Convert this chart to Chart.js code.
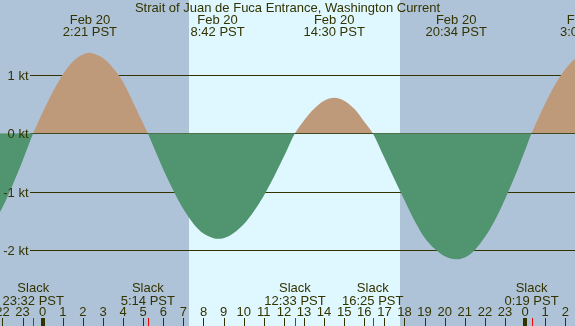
<!DOCTYPE html>
<html>
<head>
<meta charset="utf-8">
<script src="https://cdn.jsdelivr.net/npm/chart.js@4/dist/chart.umd.min.js"></script>
<style>
html,body{margin:0;padding:0;background:#afc3d8;}
canvas{display:block;}
</style>
</head>
<body>
<canvas id="c" width="575" height="326"></canvas>
<script>
// ---- data (hours relative to Feb 20 00:00 PST, current in knots) ----
const hours = [-2.5,-2.0,-1.5,-1.0,-0.47,0.0,0.5,1.0,1.5,2.0,2.35,2.5,3.0,3.5,4.0,4.5,5.0,5.23,5.5,6.0,6.5,7.0,7.5,8.0,8.5,8.70,9.0,9.5,10.0,10.5,11.0,11.5,12.0,12.55,13.0,13.5,14.0,14.5,15.0,15.5,16.0,16.42,17.0,17.5,18.0,18.5,19.0,19.5,20.0,20.57,21.0,21.5,22.0,22.5,23.0,23.5,24.0,24.32,24.5,25.0,25.5,26.0,26.5,27.0];
const knots = [-1.58,-1.27,-0.89,-0.47,0,0.36,0.71,1.01,1.23,1.35,1.38,1.37,1.29,1.12,0.88,0.53,0.17,0,-0.22,-0.62,-0.98,-1.30,-1.55,-1.72,-1.80,-1.81,-1.80,-1.71,-1.56,-1.34,-1.07,-0.75,-0.40,0,0.22,0.42,0.56,0.61,0.56,0.42,0.20,0,-0.42,-0.79,-1.15,-1.50,-1.79,-1.98,-2.11,-2.16,-2.13,-2.00,-1.78,-1.49,-1.13,-0.73,-0.29,0,0.14,0.51,0.84,1.10,1.28,1.35];

const title = "Strait of Juan de Fuca Entrance, Washington Current";
const extremeTimes = [2.35, 8.70, 14.50, 20.57, 27.08];
const extremeDates = ["Feb 20","Feb 20","Feb 20","Feb 20","Feb 21"];
const extremeLabels = ["2:21 PST","8:42 PST","14:30 PST","20:34 PST","3:05 PST"];
const slackTimes = [-0.47, 5.23, 12.55, 16.42, 24.32];
const slackLabels = ["23:32 PST","5:14 PST","12:33 PST","16:25 PST","0:19 PST"];
const sunrise = [7.28];
const sunset = [17.78];
const hourTicks = [-2,-1,0,1,2,3,4,5,6,7,8,9,10,11,12,13,14,15,16,17,18,19,20,21,22,23,24,25,26];
const hourLabels = ["22","23","0","1","2","3","4","5","6","7","8","9","10","11","12","13","14","15","16","17","18","19","20","21","22","23","0","1","2"];
const ktLevels = [1, 0, -1, -2];
const ktLabels = ["1 kt","0 kt","-1 kt","-2 kt"];

const NIGHT = '#afc3d8', DAY = '#dff7fe', FLOOD = '#be9a7a', EBB = '#509470';
const INK = '#333300';
const FONT = '13px "Liberation Sans", Arial, sans-serif';

const tidePlugin = {
  id: 'tide',
  beforeDatasetsDraw(chart) {
    const ctx = chart.ctx, xs = chart.scales.x, ys = chart.scales.y;
    const W = chart.width, H = chart.height;
    ctx.save();
    ctx.fillStyle = NIGHT;
    ctx.fillRect(0, 0, W, H);
    ctx.fillStyle = DAY;
    for (let i = 0; i < sunrise.length; i++) {
      const a = Math.round(xs.getPixelForValue(sunrise[i]));
      const b = Math.round(xs.getPixelForValue(sunset[i]));
      ctx.fillRect(a, 0, b - a, H);
    }
    ctx.fillStyle = INK;
    ktLevels.forEach(v => {
      const y = Math.round(ys.getPixelForValue(v));
      ctx.fillRect(30, y, W - 30, 1);
    });
    ctx.restore();
  },
  afterDatasetsDraw(chart) {
    const ctx = chart.ctx, xs = chart.scales.x, ys = chart.scales.y;
    const W = chart.width, H = chart.height;
    ctx.save();
    ctx.font = FONT;
    ctx.fillStyle = INK;
    ctx.textBaseline = 'alphabetic';
    // kt labels
    ctx.textAlign = 'right';
    ktLevels.forEach((v, i) => {
      const y = Math.round(ys.getPixelForValue(v));
      ctx.fillText(ktLabels[i], 28.5, y + 5);
    });
    // title
    ctx.textAlign = 'center';
    ctx.fillText(title, W / 2, 12);
    // extremes
    extremeTimes.forEach((t, i) => {
      const x = xs.getPixelForValue(t);
      ctx.fillText(extremeDates[i], x, 23.5);
      ctx.fillText(extremeLabels[i], x, 36);
    });
    // slack
    slackTimes.forEach((t, i) => {
      const x = xs.getPixelForValue(t);
      ctx.fillText('Slack', x, 292);
      ctx.fillText(slackLabels[i], x, 304.5);
    });
    // hour labels and ticks
    hourTicks.forEach((h, i) => {
      const x = xs.getPixelForValue(h);
      ctx.fillStyle = INK;
      ctx.fillText(hourLabels[i], x, 316);
      const xr = Math.round(x);
      if (hourLabels[i] === '0') ctx.fillRect(xr - 2, 318, 4, H - 318);
      else ctx.fillRect(xr, 318, 1, H - 318);
    });
    ctx.fillStyle = '#ff0000';
    slackTimes.forEach(t => {
      const xr = Math.round(xs.getPixelForValue(t));
      ctx.fillRect(xr, 318, 1, H - 318);
    });
    ctx.restore();
  }
};

new Chart(document.getElementById('c'), {
  type: 'line',
  data: {
    datasets: [{
      data: hours.map((h, i) => ({x: h, y: knots[i]})),
      borderWidth: 0,
      borderColor: 'rgba(0,0,0,0)',
      pointRadius: 0,
      cubicInterpolationMode: 'monotone',
      fill: {target: 'origin', above: FLOOD, below: EBB}
    }]
  },
  options: {
    responsive: false,
    animation: false,
    events: [],
    layout: {padding: 0},
    plugins: {legend: {display: false}, tooltip: {enabled: false}, title: {display: false}},
    scales: {
      x: {type: 'linear', min: -2.124, max: 26.483, display: false},
      y: {type: 'linear', min: -3.305, max: 2.286, display: false}
    }
  },
  plugins: [tidePlugin]
});
</script>
</body>
</html>
